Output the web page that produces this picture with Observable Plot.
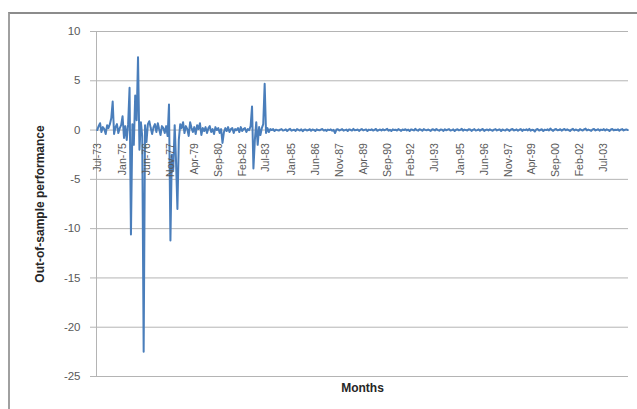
<!DOCTYPE html>
<html><head><meta charset="utf-8">
<script src="https://cdn.jsdelivr.net/npm/d3@7"></script>
<script src="https://cdn.jsdelivr.net/npm/@observablehq/plot@0.6"></script>
<style>
body{margin:0;background:#fff}
#wrap{position:relative;width:637px;height:409px;overflow:hidden}
#frame{position:absolute;left:8px;top:12px;width:700px;height:500px;border-top:2px solid #8c8c8c;border-left:2px solid #a0a0a0;pointer-events:none}
</style>
</head><body>
<div id="wrap"><div id="frame"></div></div>
<script>
const startMonth = "Jul-73";
const values = [
 0.0, 0.4, 0.7, -0.2, 0.3, 0.1, -0.4, 0.5, 0.2, 0.6,
 1.2, 2.9, -0.4, 0.3, 0.6, -0.3, 0.2, 0.5, 1.4, -0.8,
 0.4, -1.0, 0.6, 4.3, -10.6, 0.6, -1.5, 3.5, 1.0, 7.4,
 -2.0, 0.8, -0.6, -22.5, 0.5, -1.2, 0.6, 0.9, 0.2, -0.4,
 0.3, 0.6, -0.2, 0.7, 0.1, -0.5, 0.4, 0.2, -0.3, 0.4,
 -0.6, 2.6, -11.2, -2.5, -4.0, 0.5, -3.0, -8.0, -1.0, 0.6,
 0.2, 0.8, -0.3, 0.4, 0.1, -0.6, 0.8, 0.2, -0.2, 0.3,
 -0.4, 0.5, 0.1, 0.7, -0.5, 0.2, -0.1, 0.3, -0.3, 0.2,
 0.4, -0.2, 0.1, -0.4, 0.3, 0.0, 0.2, -0.3, 0.1, -1.3,
 -0.2, 0.2, -0.1, 0.3, -0.2, 0.1, 0.2, -0.3, 0.1, 0.0,
 0.2, -0.2, 0.3, -0.1, 0.1, 0.2, -0.2, 0.1, 0.0, 0.4,
 2.4, -3.9, -1.0, 0.8, -1.5, 0.3, -0.5, 0.2, 0.6, 4.7,
 -0.3, 0.2, -0.2, 0.1, 0.0, 0.1, -0.1, 0.05, 0.0, -0.05,
 0.05, 0.1, -0.05, 0.0, 0.08, -0.1, 0.05, 0.12, -0.06, 0.0, 0.04, -0.08, 0.1, 0.02, -0.05, 0.07, -0.12, 0.03, 0.06, -0.04,
 0.0, 0.09, -0.07, 0.05, 0.02, -0.1, 0.08, 0.0, -0.03, 0.06, 0.1, -0.05, 0.03, -0.08, 0.05, 0.0, 0.07, -0.06, 0.02, -0.3,
 0.05, 0.08, -0.04, 0.02, 0.1, -0.06, 0.0, 0.05, -0.09, 0.07, 0.03, -0.05, 0.12, -0.02, 0.0, 0.06, -0.08, 0.04, 0.1, -0.03,
 0.02, 0.07, -0.1, 0.05, 0.0, 0.08, -0.05, 0.03, 0.11, -0.07, 0.0, 0.06, -0.04, 0.09, -0.02, 0.05, 0.13, -0.06, 0.02, -0.09,
 0.07, 0.0, 0.04, -0.05, 0.1, 0.02, -0.08, 0.06, 0.0, 0.09, -0.03, 0.05, -0.1, 0.07, 0.03, -0.04, 0.12, 0.0, -0.06, 0.08,
 0.04, -0.07, 0.1, 0.02, -0.03, 0.06, 0.0, -0.09, 0.08, 0.05, -0.04, 0.11, 0.0, -0.06, 0.07, 0.03, -0.08, 0.09, -0.02, 0.05,
 0.1, -0.05, 0.0, 0.07, -0.1, 0.04, 0.08, -0.03, 0.02, 0.12, -0.07, 0.05, 0.0, -0.04, 0.09, 0.06, -0.08, 0.03, 0.1, -0.05,
 0.0, 0.07, -0.06, 0.04, 0.11, -0.09, 0.02, 0.06, -0.03, 0.08, 0.0, -0.07, 0.05, 0.1, -0.04, 0.03, 0.07, -0.1, 0.06, 0.0,
 -0.05, 0.09, 0.02, -0.08, 0.06, 0.11, -0.04, 0.0, 0.07, -0.06, 0.03, 0.1, -0.09, 0.05, 0.0, 0.08, -0.03, 0.12, -0.07, 0.04,
 0.0, -0.15, 0.06, 0.1, -0.05, 0.03, 0.08, -0.1, 0.05, 0.0, 0.07, -0.04, 0.15, 0.02, -0.08, 0.06, 0.1, -0.03, 0.0, 0.09,
 -0.06, 0.04, 0.11, -0.02, 0.07, 0.0, -0.09, 0.05, 0.13, -0.04, 0.06, 0.0, -0.07, 0.1, 0.03, -0.05, 0.08, 0.15, -0.03, 0.05,
 0.0, -0.08, 0.07, 0.12, -0.04, 0.03, 0.09, -0.06, 0.05, 0.0, 0.1, -0.05, 0.07, 0.02, -0.09, 0.06, 0.11, -0.03, 0.04, 0.0,
 0.08, -0.06, 0.05, 0.1, -0.04, 0.03, 0.07, 0.0
];
const xTickLabels = ["Jul-73","Jan-75","Jun-76","Nov-77","Apr-79","Sep-80","Feb-82","Jul-83","Jan-85","Jun-86","Nov-87","Apr-89","Sep-90","Feb-92","Jul-93","Jan-95","Jun-96","Nov-97","Apr-99","Sep-00","Feb-02","Jul-03"];
const yTicks = [-25, -20, -15, -10, -5, 0, 5, 10];
const yTitle = "Out-of-sample performance";
const xTitle = "Months";

const parse = d3.utcParse("%b-%y");
const t0 = parse(startMonth);
const data = values.map((v, i) => ({date: d3.utcMonth.offset(t0, i), value: v}));
const xDomain = [d3.utcDay.offset(t0, -15), d3.utcDay.offset(data[data.length - 1].date, 15)];
const font = "'Liberation Sans', Arial, sans-serif";

const chart = Plot.plot({
  width: 637, height: 409,
  marginLeft: 96, marginRight: 9, marginTop: 31, marginBottom: 33,
  x: {type: "utc", domain: xDomain, axis: null},
  y: {domain: [-25, 10], axis: null},
  style: {background: "transparent", fontFamily: font},
  marks: [
    Plot.ruleY(yTicks, {stroke: "#b4b4b4", strokeWidth: 1}),
    Plot.ruleX([xDomain[0]], {stroke: "#b4b4b4", strokeWidth: 1}),
    Plot.axisY({ticks: yTicks, tickFormat: d => String(d), tickSize: 6, tickPadding: 10, fontSize: 11.5, stroke: "#b4b4b4", fill: "#595959", label: null}),
    Plot.line(data, {x: "date", y: "value", stroke: "#4a7ebb", strokeWidth: 2}),
    Plot.text(xTickLabels, {x: d => parse(d), y: d => 0, text: d => d, rotate: -90, textAnchor: "end", lineAnchor: "middle", dy: 13, fontSize: 10.5, fill: "#595959"}),
    Plot.text([yTitle], {frameAnchor: "left", dx: -56, rotate: -90, textAnchor: "middle", lineAnchor: "middle", fontWeight: "bold", fontSize: 12, fill: "#262626"}),
    Plot.text([xTitle], {frameAnchor: "bottom", dy: 12, textAnchor: "middle", lineAnchor: "middle", fontWeight: "bold", fontSize: 12, fill: "#262626"})
  ]
});
document.getElementById("wrap").prepend(chart);
</script>
</body></html>
